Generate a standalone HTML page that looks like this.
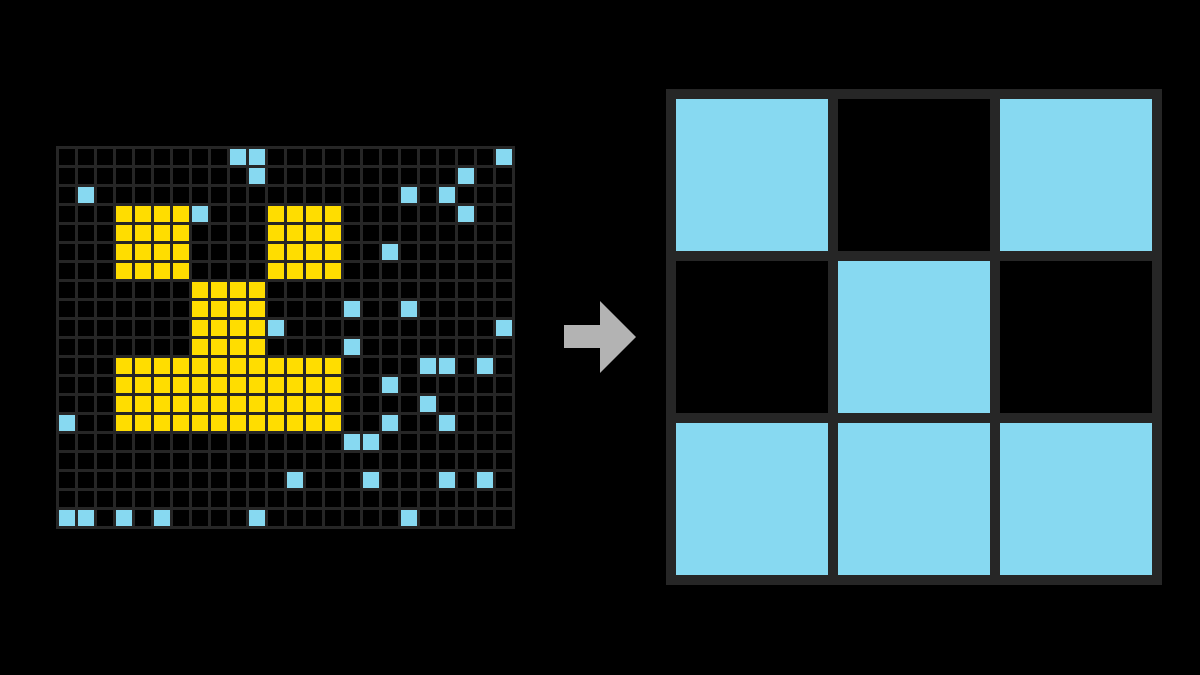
<!DOCTYPE html>
<html><head><meta charset="utf-8"><style>html,body{margin:0;padding:0;background:#000;}svg{display:block}</style></head>
<body>
<svg id="s" width="1200" height="675" xmlns="http://www.w3.org/2000/svg">
<rect width="1200" height="675" fill="#000"/>
<g id="g"></g>
<polygon points="564,325 600,325 600,301 636,337 600,373 600,348 564,348" fill="#b3b3b3"/>
<rect x="666" y="89" width="496" height="496" fill="#262626"/>
<rect x="676" y="99" width="152" height="152" fill="#87d9f1"/>
<rect x="838" y="99" width="152" height="152" fill="#000"/>
<rect x="1000" y="99" width="152" height="152" fill="#87d9f1"/>
<rect x="676" y="261" width="152" height="152" fill="#000"/>
<rect x="838" y="261" width="152" height="152" fill="#87d9f1"/>
<rect x="1000" y="261" width="152" height="152" fill="#000"/>
<rect x="676" y="423" width="152" height="152" fill="#87d9f1"/>
<rect x="838" y="423" width="152" height="152" fill="#87d9f1"/>
<rect x="1000" y="423" width="152" height="152" fill="#87d9f1"/>
</svg>
<script>
var g=document.getElementById('g'),ns='http://www.w3.org/2000/svg',h='';
h+='<rect x="56" y="146" width="459" height="383" fill="#262626"/>';
var blue=[[9,0],[10,0],[23,0],[10,1],[21,1],[1,2],[18,2],[20,2],[7,3],[21,3],[17,5],[15,8],[18,8],[11,9],[23,9],[15,10],[19,11],[20,11],[22,11],[17,12],[19,13],[0,14],[17,14],[20,14],[15,15],[16,15],[12,17],[16,17],[20,17],[22,17],[0,19],[1,19],[3,19],[5,19],[10,19],[18,19]];
var col={};
blue.forEach(function(b){col[b[0]+','+b[1]]='#87d9f1';});
function y(c0,c1,r0,r1){for(var r=r0;r<=r1;r++)for(var c=c0;c<=c1;c++)col[c+','+r]='#ffdd00';}
y(3,6,3,6);y(11,14,3,6);y(7,10,7,10);y(3,14,11,14);
for(var r=0;r<20;r++)for(var c=0;c<24;c++){var f=col[c+','+r]||'#000';h+='<rect x="'+(59+19*c)+'" y="'+(149+19*r)+'" width="16" height="16" fill="'+f+'"/>';}
g.innerHTML=h;
</script>
</body></html>
